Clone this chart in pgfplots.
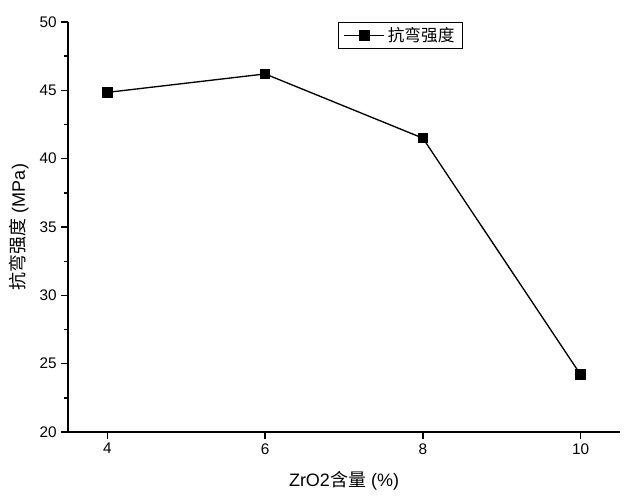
\documentclass[border=0pt]{standalone}
\usepackage{pgfplots}
\pgfplotsset{compat=1.18}
\usepackage{fontspec}
\setmainfont{Liberation Sans}
\newfontfamily\cjk{Noto Sans CJK SC}
\begin{document}
\begin{tikzpicture}
\begin{axis}[
  scale only axis,
  width=414pt, height=307.5pt,
  xmin=3.5, xmax=10.5, ymin=20, ymax=50,
  axis x line*=bottom, axis y line*=left,
  axis line style={line width=1pt, -},
  xtick={4,6,8,10}, ytick={20,25,...,50},
  minor y tick num=1,
  tick align=outside,
  major tick length=5pt, minor tick length=3pt,
  every tick/.style={black, line width=1pt},
  /pgf/number format/assume math mode=true,
  tick label style={font=\fontsize{11.5}{13}\selectfont},
  xlabel={ZrO2{\cjk 含量} (\%)},
  ylabel={{\cjk 抗弯强度} (MPa)},
  label style={font=\fontsize{13.5}{15}\selectfont},
  xlabel style={at={(axis description cs:0.5,0)}, anchor=north, yshift=-26pt},
  ylabel style={at={(axis description cs:0,0.5)}, anchor=south, yshift=26pt},
  legend style={at={(axis description cs:0.489,1)}, anchor=north west,
    draw=black, line width=0.8pt, font=\fontsize{12.5}{14}\selectfont\cjk,
    inner xsep=4pt, inner ysep=1.5pt},
  legend image code/.code={
    \draw[#1, mark repeat=2, mark phase=2] plot coordinates {(0pt,0pt) (15pt,0pt) (30pt,0pt)};},
  legend cell align=left,
]
\addplot[black, line width=1pt, mark=square*, mark size=3.5pt, mark options={solid}]
  coordinates {(4,44.85) (6,46.2) (8,41.5) (10,24.2)};
\addlegendentry{抗弯强度}
\end{axis}
\path ([shift={(-51pt,-50.25pt)}]current axis.south west) rectangle ([shift={(6.75pt,16.5pt)}]current axis.north east);
\end{tikzpicture}
\end{document}
